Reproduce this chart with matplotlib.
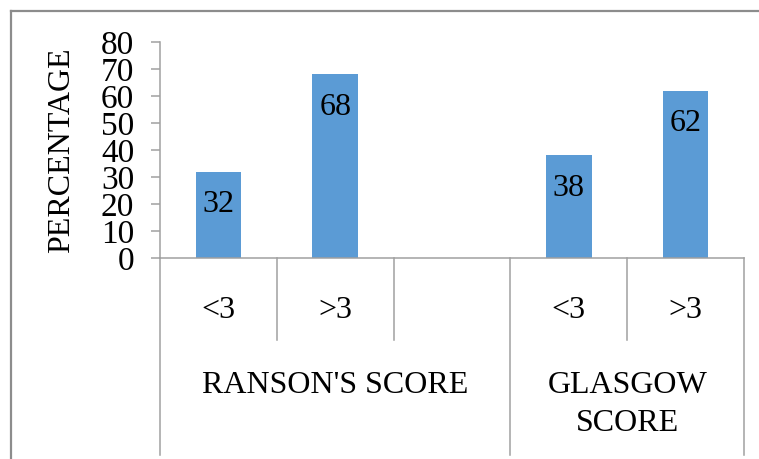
import matplotlib
matplotlib.use("Agg")
import matplotlib.pyplot as plt
import numpy as np
from matplotlib.lines import Line2D
from matplotlib.transforms import blended_transform_factory

# chart data
categories = ["<3", ">3", "", "<3", ">3"]
groups = ["RANSON'S SCORE", "GLASGOW\nSCORE"]
group_sizes = [3, 2]
values = [32, 68, np.nan, 38, 62]
y_ticks = [0, 10, 20, 30, 40, 50, 60, 70, 80]

BAR_COLOR = "#5b9bd5"
AXIS_COLOR = "#a0a0a0"
FONT = "Liberation Serif"
FS = 23

plt.rcParams["font.family"] = [FONT, "DejaVu Serif"]

W, H = 759, 459
fig = plt.figure(figsize=(W / 100, H / 100), dpi=100)
left, right, top, bottom = 160, 744, 42, 258
ax = fig.add_axes([left / W, 1 - bottom / H, (right - left) / W, (bottom - top) / H])

x = np.arange(len(categories))
ax.bar(x, values, width=0.39, color=BAR_COLOR, zorder=2)
for xi, v in zip(x, values):
    if np.isnan(v):
        continue
    ax.annotate(f"{v:g}", (xi, v), xytext=(0, -33), textcoords="offset pixels",
                ha="center", va="center", fontsize=FS, color="black")

ax.set_xlim(-0.5, len(categories) - 0.5)
ax.set_ylim(0, 80)
ax.set_yticks(y_ticks)
ax.set_yticklabels([str(t) for t in y_ticks], fontsize=24)
ax.tick_params(axis="y", length=6.5, width=1.1, color=AXIS_COLOR, pad=12)
ax.set_xticks([])
for side in ("top", "right"):
    ax.spines[side].set_visible(False)
for side in ("left", "bottom"):
    ax.spines[side].set_color(AXIS_COLOR)
    ax.spines[side].set_linewidth(1.1)

ax.set_ylabel("PERCENTAGE", fontsize=FS)
ax.yaxis.set_label_coords((76 - left) / (right - left), 0.5)

# multi-level category axis
px = 1 / (bottom - top)
trans = blended_transform_factory(ax.transData, ax.transAxes)
short_y = -(340 - bottom) * px
long_y = -(455 - bottom) * px
group_edges = np.concatenate([[0], np.cumsum(group_sizes)]) - 0.5
for b in np.arange(len(categories) + 1) - 0.5:
    end = long_y if b in group_edges else short_y
    ax.add_line(Line2D([b, b], [0, end], transform=trans, color=AXIS_COLOR,
                       lw=1.1, clip_on=False))

for xi, lab in zip(x, categories):
    ax.text(xi, -(310 - bottom) * px, lab, transform=trans, ha="center",
            va="center", fontsize=FS)

for i, g in enumerate(groups):
    cx = (group_edges[i] + group_edges[i + 1]) / 2
    ax.text(cx, -(371 - bottom) * px, g, transform=trans, ha="center",
            va="top", fontsize=FS, linespacing=1.4, multialignment="center")

# outer chart border (cropped at right and bottom)
bx, by = 11 / W, 1 - 11 / H
fig.add_artist(Line2D([bx, bx], [0, by], transform=fig.transFigure, color="#8c8c8c", lw=1.6))
fig.add_artist(Line2D([bx, 1], [by, by], transform=fig.transFigure, color="#8c8c8c", lw=1.6))

fig.savefig("out.png", dpi=100)
